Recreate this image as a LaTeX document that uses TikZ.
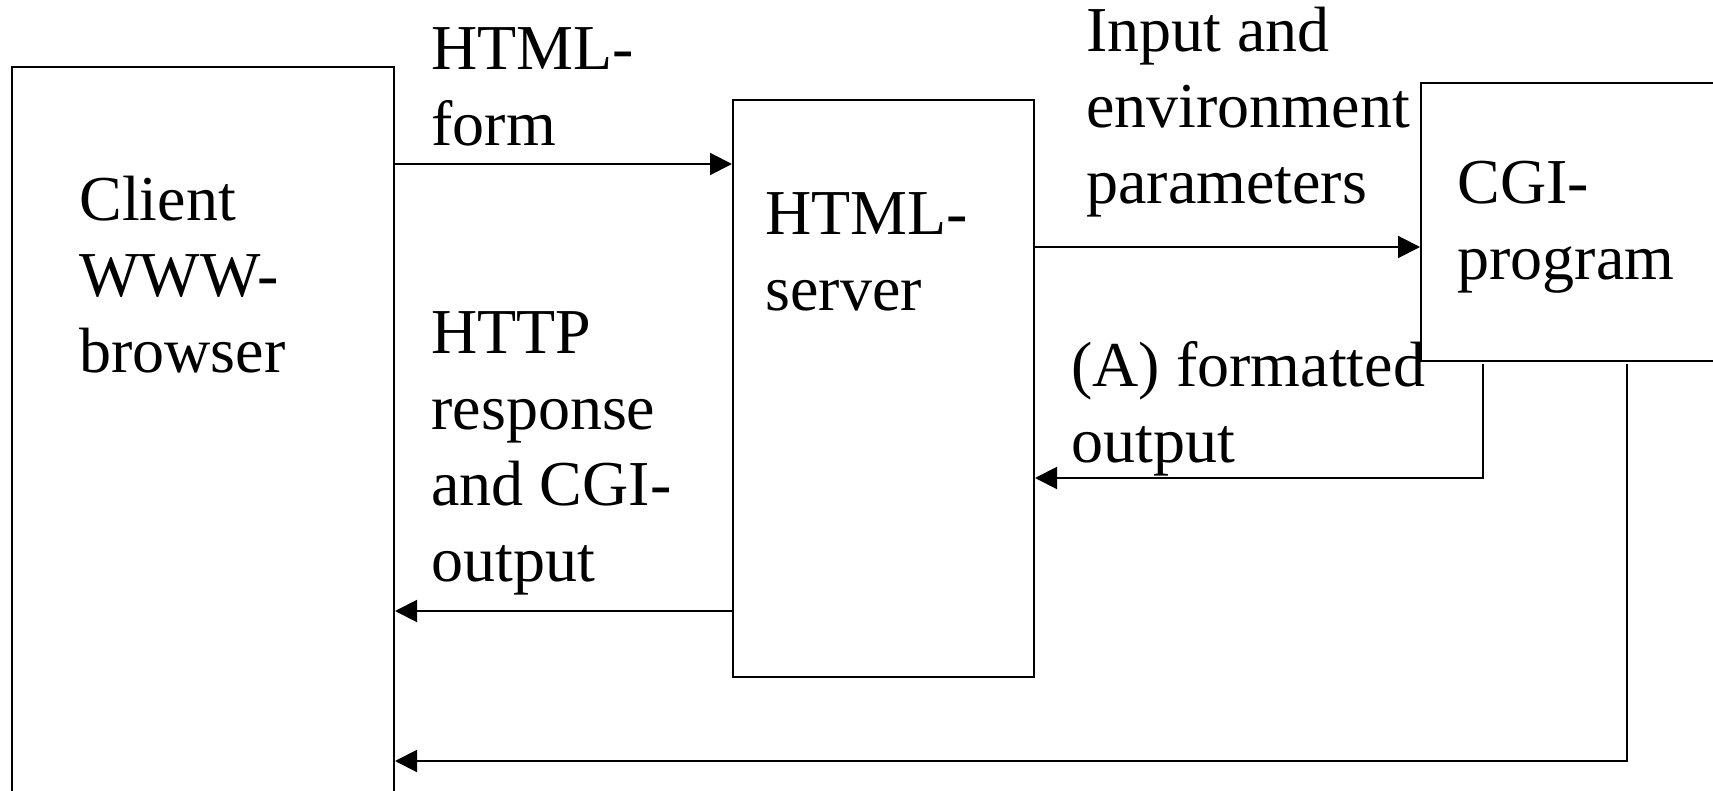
\documentclass[tikz,border=0pt]{standalone}
\usepackage{fontspec}
\setmainfont{Liberation Serif}
\usetikzlibrary{arrows.meta}
\tikzset{
  box/.style={draw, line width=1pt, inner sep=0pt, anchor=north west},
  lbl/.style={anchor=base west, align=left, inner sep=0pt, font=\fontsize{32}{38}\selectfont},
  flow/.style={line width=1pt, -{Triangle[length=11pt,width=11pt]}},
}
\begin{document}
\begin{tikzpicture}[x=0.5pt,y=-0.5pt]
\useasboundingbox (0,0) rectangle (1713,791);
\clip (0,0) rectangle (1713,791);
% boxes
\node[box, minimum width=191pt, minimum height=390pt] (client) at (11,66) {};
\node[box, minimum width=150.5pt, minimum height=288.5pt] (server) at (732,99) {};
\node[box, minimum width=180pt, minimum height=139pt] (cgi) at (1420,82) {};
% levels of the connectors
\coordinate (formY) at (0,164);
\coordinate (inY) at (0,247);
\coordinate (fmtY) at (0,478);
\coordinate (respY) at (0,611);
\coordinate (retY) at (0,761);
\coordinate (fmtTop) at (1483,364);
\coordinate (retTop) at (1627,364);
% connectors
\draw[flow] (client.east |- formY) -- (server.west |- formY);
\draw[flow] (server.east |- inY) -- (cgi.west |- inY);
\draw[flow] (fmtTop) |- (server.east |- fmtY);
\draw[flow] (server.west |- respY) -- (client.east |- respY);
\draw[flow] (retTop) |- (client.east |- retY);
% texts (anchored at the baseline of the last line)
\node[lbl] (clientTxt) at (79,372) {Client\\WWW-\\browser};
\node[lbl] (formTxt) at (431,146) {HTML-\\form};
\node[lbl] (respTxt) at (431,581) {HTTP\\response\\and CGI-\\output};
\node[lbl] (serverTxt) at (765,311) {HTML-\\server};
\node[lbl] (inTxt) at (1086,204) {Input and\\environment\\parameters};
\node[lbl] (cgiTxt) at (1457,279) {CGI-\\program};
\node[lbl] (fmtTxt) at (1071,462) {(A) formatted\\output};
\end{tikzpicture}
\end{document}
